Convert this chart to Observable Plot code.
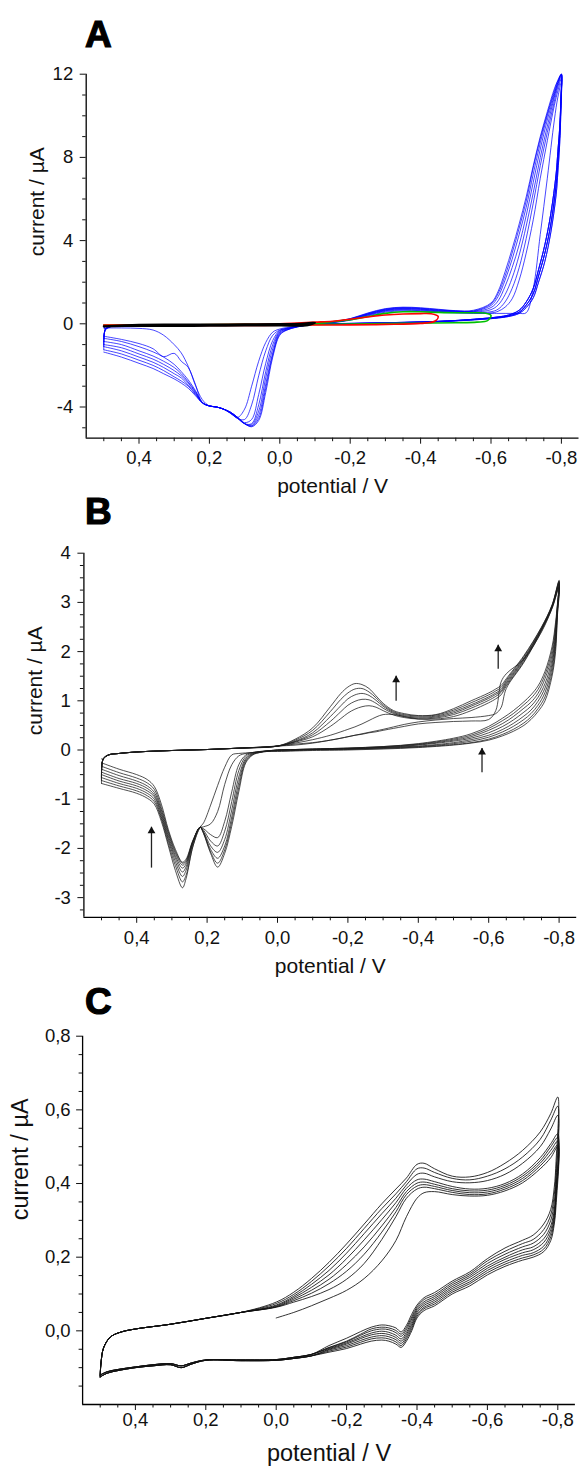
<!DOCTYPE html>
<html><head><meta charset="utf-8">
<script src="https://cdn.jsdelivr.net/npm/d3@7"></script>
<script src="https://cdn.jsdelivr.net/npm/@observablehq/plot@0.6"></script>
<style>
body{margin:0;background:#fff;}
#wrap{position:relative;width:581px;height:1472px;background:#fff;overflow:hidden;font-family:"Liberation Sans",Arial,Helvetica,sans-serif;}
.panel{position:absolute;left:0;}
.letter{position:absolute;left:85px;font-size:37px;font-weight:bold;line-height:1;color:#000;-webkit-text-stroke:1.2px #000;}
</style></head><body><div id="wrap"></div>
<script>
// ---------- axis ticks / labels ----------
const xMajor = [0.4, 0.2, 0, -0.2, -0.4, -0.6, -0.8];
const xMajorLabels = ["0,4", "0,2", "0,0", "-0,2", "-0,4", "-0,6", "-0,8"];
const xMinor = [0.5, 0.45, 0.35, 0.3, 0.25, 0.15, 0.1, 0.05, -0.05, -0.1, -0.15, -0.25, -0.3, -0.35, -0.45, -0.5, -0.55, -0.65, -0.7, -0.75];
const aYMajor = [12, 8, 4, 0, -4];
const aYLabels = ["12", "8", "4", "0", "-4"];
const aYMinor = [11, 10, 9, 7, 6, 5, 3, 2, 1, -1, -2, -3, -5];
const bYMajor = [4, 3, 2, 1, 0, -1, -2, -3];
const bYLabels = ["4", "3", "2", "1", "0", "-1", "-2", "-3"];
const bYMinor = [3.75, 3.5, 3.25, 2.75, 2.5, 2.25, 1.75, 1.5, 1.25, 0.75, 0.5, 0.25, -0.25, -0.5, -0.75, -1.25, -1.5, -1.75, -2.25, -2.5, -2.75, -3.25];
const cYMajor = [0.8, 0.6, 0.4, 0.2, 0.0];
const cYLabels = ["0,8", "0,6", "0,4", "0,2", "0,0"];
const cYMinor = [0.75, 0.7, 0.65, 0.55, 0.5, 0.45, 0.35, 0.3, 0.25, 0.15, 0.1, 0.05, -0.05, -0.1, -0.15];
const panelLetters = ["A", "B", "C"];
const xTitle = "potential / V";
const yTitle = "current / µA";

// ---------- Panel A (blue cycles) ----------
const aFwdHeadE = [0.495, 0.48, 0.45, 0.40, 0.30, 0.20, 0.10, 0.00, -0.10];
const aFwdHeadI = [-0.25, -0.13, -0.10, -0.08, -0.06, -0.05, -0.04, -0.02, 0.02];
const aFwdTailE = [-0.15, -0.20, -0.25, -0.30, -0.35, -0.40, -0.45, -0.50, -0.55, -0.60, -0.62, -0.64, -0.66, -0.68, -0.70, -0.72, -0.74, -0.76, -0.78, -0.79, -0.80];
const aFwd1 = [0.06, 0.17, 0.38, 0.56, 0.62, 0.60, 0.55, 0.52, 0.50, 0.50, 0.50, 0.50, 0.50, 0.50, 0.53, 1.7, 4.3, 7.0, 9.8, 10.9, 11.6];
const aFwd2 = [0.07, 0.19, 0.41, 0.60, 0.66, 0.63, 0.58, 0.54, 0.52, 0.52, 0.60, 0.80, 1.2, 2.1, 3.4, 5.0, 7.0, 8.8, 10.5, 11.2, 11.8];
const aFwd3 = [0.07, 0.20, 0.43, 0.63, 0.69, 0.66, 0.60, 0.56, 0.54, 0.58, 0.70, 1.05, 1.7, 2.7, 4.1, 5.8, 7.6, 9.2, 10.7, 11.4, 11.9];
const aFwd4 = [0.08, 0.21, 0.45, 0.65, 0.72, 0.69, 0.62, 0.58, 0.56, 0.68, 0.90, 1.4, 2.2, 3.3, 4.7, 6.3, 8.0, 9.5, 10.9, 11.5, 12.0];
const aFwd5 = [0.08, 0.22, 0.47, 0.67, 0.74, 0.71, 0.64, 0.60, 0.58, 0.78, 1.1, 1.8, 2.7, 3.8, 5.2, 6.8, 8.4, 9.8, 11.0, 11.6, 12.0];
const aFwd6 = [0.09, 0.23, 0.48, 0.69, 0.76, 0.73, 0.66, 0.61, 0.60, 0.88, 1.3, 2.1, 3.1, 4.3, 5.6, 7.2, 8.7, 10.0, 11.1, 11.6, 12.0];
const aFwd7 = [0.09, 0.24, 0.50, 0.71, 0.78, 0.75, 0.68, 0.62, 0.62, 0.95, 1.45, 2.3, 3.4, 4.6, 5.9, 7.5, 8.9, 10.1, 11.2, 11.7, 12.0];
const aFwd8 = [0.10, 0.25, 0.52, 0.73, 0.80, 0.77, 0.70, 0.63, 0.65, 1.0, 1.55, 2.5, 3.6, 4.8, 6.1, 7.6, 9.0, 10.2, 11.3, 11.7, 12.0];
const aRevHeadE = [-0.799, -0.795, -0.79, -0.785, -0.77, -0.753, -0.735, -0.72, -0.70, -0.68, -0.65, -0.62, -0.58, -0.50, -0.40, -0.30, -0.20, -0.10];
const aRevHeadI1 = [10.5, 8.6, 7.3, 6.2, 4.4, 3.0, 2.0, 1.25, 0.78, 0.50, 0.35, 0.28, 0.22, 0.14, 0.07, 0.03, 0.00, -0.02];
const aRevHeadI2 = [10.8, 9.0, 7.8, 6.7, 4.8, 3.4, 2.3, 1.45, 0.90, 0.56, 0.38, 0.30, 0.24, 0.15, 0.08, 0.04, 0.01, -0.02];
const aRevHeadI3 = [11.0, 9.4, 8.3, 7.2, 5.3, 3.8, 2.6, 1.70, 1.05, 0.65, 0.42, 0.33, 0.26, 0.16, 0.09, 0.05, 0.02, -0.02];
const aRevTailE = [-0.05, -0.02, 0.00, 0.02, 0.04, 0.06, 0.08, 0.10, 0.12, 0.14, 0.16, 0.18, 0.20, 0.22, 0.24, 0.26, 0.28, 0.30, 0.33, 0.36, 0.40, 0.45, 0.50];
const aRev1 = [-0.10, -0.18, -0.25, -0.40, -0.90, -1.8, -3.0, -4.1, -4.5, -4.3, -4.1, -4.0, -3.95, -3.8, -2.9, -2.05, -1.4, -1.0, -0.55, -0.30, -0.22, -0.20, -0.20];
const aRev2 = [-0.12, -0.22, -0.30, -0.55, -1.3, -2.5, -3.9, -4.6, -4.55, -4.3, -4.1, -4.0, -3.95, -3.65, -2.95, -2.1, -1.8, -1.42, -1.58, -1.2, -0.95, -0.75, -0.60];
const aRev3 = [-0.12, -0.22, -0.32, -0.80, -1.9, -3.4, -4.6, -4.75, -4.55, -4.3, -4.1, -4.0, -3.95, -3.78, -3.2, -2.7, -2.3, -1.95, -1.6, -1.35, -1.1, -0.85, -0.70];
const aRev4 = [-0.13, -0.24, -0.36, -1.0, -2.3, -3.9, -4.8, -4.8, -4.55, -4.28, -4.1, -4.0, -3.95, -3.78, -3.25, -2.8, -2.4, -2.1, -1.8, -1.55, -1.3, -1.0, -0.85];
const aRev5 = [-0.13, -0.26, -0.40, -1.2, -2.6, -4.2, -4.85, -4.8, -4.5, -4.27, -4.1, -4.0, -3.95, -3.8, -3.3, -2.85, -2.5, -2.25, -1.95, -1.7, -1.45, -1.15, -1.0];
const aRev6 = [-0.14, -0.28, -0.45, -1.4, -2.9, -4.4, -4.9, -4.8, -4.5, -4.25, -4.1, -4.0, -3.95, -3.8, -3.35, -2.95, -2.6, -2.4, -2.1, -1.85, -1.6, -1.3, -1.1];
const aRev7 = [-0.15, -0.30, -0.50, -1.5, -3.1, -4.55, -4.92, -4.8, -4.5, -4.25, -4.1, -4.0, -3.95, -3.8, -3.4, -3.0, -2.75, -2.55, -2.25, -2.0, -1.75, -1.45, -1.25];
const aRev8 = [-0.15, -0.30, -0.55, -1.6, -3.3, -4.65, -4.95, -4.8, -4.5, -4.25, -4.1, -4.0, -3.95, -3.8, -3.45, -3.1, -2.85, -2.65, -2.4, -2.15, -1.9, -1.6, -1.36];
// small switching loops
const blackE = [0.50, 0.40, 0.30, 0.20, 0.10, 0.00, -0.06, -0.10, -0.08, 0.00, 0.10, 0.20, 0.30, 0.40, 0.50];
const blackI = [-0.12, -0.05, -0.04, -0.04, -0.03, -0.02, 0.00, 0.05, -0.06, -0.08, -0.08, -0.09, -0.10, -0.10, -0.12];
const redE = [0.50, 0.30, 0.10, 0.00, -0.05, -0.10, -0.15, -0.20, -0.25, -0.30, -0.35, -0.40, -0.43, -0.45, -0.44, -0.40, -0.30, -0.20, -0.10, 0.00, 0.10, 0.20, 0.30, 0.40, 0.50];
const redI = [-0.06, -0.05, -0.03, 0.00, 0.04, 0.08, 0.12, 0.22, 0.33, 0.42, 0.47, 0.49, 0.48, 0.35, 0.12, 0.02, -0.03, -0.05, -0.06, -0.07, -0.08, -0.08, -0.09, -0.10, -0.12];
const greenE = [0.50, 0.30, 0.10, 0.00, -0.10, -0.15, -0.20, -0.25, -0.30, -0.35, -0.40, -0.45, -0.50, -0.55, -0.58, -0.60, -0.59, -0.56, -0.50, -0.40, -0.30, -0.20, -0.10, 0.00, 0.20, 0.40, 0.50];
const greenI = [-0.06, -0.05, -0.03, -0.01, 0.04, 0.10, 0.20, 0.35, 0.50, 0.58, 0.58, 0.55, 0.53, 0.53, 0.52, 0.40, 0.15, 0.08, 0.05, 0.03, 0.01, -0.01, -0.03, -0.05, -0.06, -0.07, -0.08];

// ---------- Panel B ----------
const bFwdHeadE = [0.495, 0.48, 0.45, 0.40, 0.30, 0.20, 0.10, 0.00];
const bFwdHeadI = [-0.18, -0.10, -0.07, -0.04, -0.01, 0.01, 0.04, 0.08];
const bFwdTailE = [-0.05, -0.10, -0.15, -0.18, -0.20, -0.22, -0.24, -0.26, -0.28, -0.30, -0.33, -0.36, -0.40, -0.45, -0.50, -0.55, -0.60, -0.62, -0.635, -0.65, -0.70, -0.75, -0.78, -0.80];
const bFwd1 = [0.10, 0.14, 0.20, 0.24, 0.27, 0.30, 0.32, 0.35, 0.37, 0.40, 0.44, 0.48, 0.53, 0.56, 0.58, 0.59, 0.62, 0.80, 1.38, 1.55, 1.85, 2.40, 2.88, 3.30];
const bFwd2 = [0.12, 0.15, 0.20, 0.24, 0.27, 0.30, 0.33, 0.36, 0.39, 0.42, 0.47, 0.52, 0.57, 0.61, 0.64, 0.66, 0.70, 0.74, 0.86, 1.25, 1.78, 2.42, 2.88, 3.32];
const bFwd3 = [0.14, 0.21, 0.30, 0.37, 0.42, 0.47, 0.53, 0.60, 0.67, 0.72, 0.72, 0.68, 0.63, 0.63, 0.68, 0.80, 0.96, 1.04, 1.12, 1.30, 1.80, 2.44, 2.90, 3.36];
const bFwd4 = [0.16, 0.27, 0.48, 0.64, 0.75, 0.83, 0.88, 0.90, 0.87, 0.80, 0.71, 0.66, 0.63, 0.65, 0.72, 0.85, 1.01, 1.09, 1.17, 1.33, 1.83, 2.45, 2.91, 3.38];
const bFwd5 = [0.17, 0.31, 0.58, 0.78, 0.91, 0.99, 1.03, 1.02, 0.95, 0.85, 0.74, 0.68, 0.65, 0.67, 0.75, 0.89, 1.05, 1.13, 1.20, 1.36, 1.85, 2.46, 2.92, 3.40];
const bFwd6 = [0.18, 0.35, 0.68, 0.90, 1.04, 1.12, 1.15, 1.11, 1.01, 0.89, 0.76, 0.70, 0.67, 0.69, 0.78, 0.92, 1.08, 1.16, 1.23, 1.39, 1.87, 2.47, 2.93, 3.42];
const bFwd7 = [0.20, 0.40, 0.78, 1.03, 1.16, 1.24, 1.25, 1.18, 1.06, 0.92, 0.78, 0.72, 0.69, 0.71, 0.81, 0.96, 1.12, 1.20, 1.27, 1.42, 1.90, 2.49, 2.94, 3.43];
const bFwd8 = [0.22, 0.45, 0.88, 1.15, 1.28, 1.35, 1.33, 1.25, 1.10, 0.95, 0.80, 0.74, 0.70, 0.72, 0.84, 1.00, 1.16, 1.24, 1.31, 1.45, 1.92, 2.50, 2.95, 3.45];
const bRevHeadE = [-0.795, -0.79, -0.78, -0.76, -0.74, -0.72, -0.70, -0.67, -0.64, -0.60, -0.55, -0.50, -0.40, -0.30, -0.20, -0.10, -0.05, 0.00];
const bRev1 = [2.70, 2.00, 1.50, 1.00, 0.78, 0.62, 0.50, 0.38, 0.29, 0.20, 0.14, 0.10, 0.05, 0.02, 0.00, -0.01, -0.02, -0.03];
const bRev2 = [2.75, 2.10, 1.58, 1.08, 0.84, 0.67, 0.55, 0.42, 0.32, 0.22, 0.15, 0.11, 0.06, 0.03, 0.01, 0.00, -0.01, -0.02];
const bRev3 = [2.80, 2.20, 1.67, 1.17, 0.91, 0.74, 0.62, 0.48, 0.37, 0.26, 0.18, 0.13, 0.07, 0.04, 0.02, 0.01, 0.00, -0.01];
const bRev4 = [2.83, 2.28, 1.75, 1.26, 0.99, 0.81, 0.69, 0.54, 0.42, 0.30, 0.21, 0.15, 0.08, 0.05, 0.02, 0.01, 0.00, -0.01];
const bRev5 = [2.86, 2.36, 1.84, 1.35, 1.07, 0.89, 0.77, 0.61, 0.48, 0.35, 0.24, 0.18, 0.10, 0.05, 0.03, 0.01, 0.00, 0.00];
const bRev6 = [2.90, 2.44, 1.93, 1.45, 1.15, 0.97, 0.85, 0.68, 0.54, 0.40, 0.27, 0.20, 0.11, 0.06, 0.03, 0.02, 0.01, 0.00];
const bRev7 = [2.92, 2.52, 2.02, 1.53, 1.23, 1.05, 0.92, 0.74, 0.60, 0.44, 0.30, 0.22, 0.12, 0.07, 0.04, 0.02, 0.01, 0.00];
const bRev8 = [2.95, 2.60, 2.10, 1.60, 1.30, 1.12, 0.98, 0.80, 0.65, 0.48, 0.33, 0.24, 0.13, 0.07, 0.04, 0.02, 0.01, 0.00];
const bAnE = [0.03, 0.05, 0.07, 0.09, 0.11, 0.13, 0.15, 0.17, 0.19, 0.21, 0.22, 0.24, 0.26, 0.27, 0.29, 0.31, 0.33, 0.35, 0.37, 0.40, 0.45, 0.50];
const bAn1 = [-0.03, -0.04, -0.05, -0.06, -0.07, -0.10, -0.35, -0.72, -1.12, -1.48, -1.57, -1.95, -2.62, -2.80, -2.45, -1.95, -1.45, -1.10, -0.98, -0.88, -0.78, -0.68];
const bAn2 = [-0.02, -0.04, -0.05, -0.07, -0.12, -0.30, -0.70, -1.25, -1.50, -1.56, -1.58, -1.95, -2.55, -2.68, -2.35, -1.90, -1.40, -1.05, -0.93, -0.83, -0.73, -0.62];
const bAn3 = [-0.02, -0.03, -0.05, -0.10, -0.30, -0.85, -1.45, -1.78, -1.72, -1.60, -1.57, -1.90, -2.45, -2.57, -2.27, -1.84, -1.36, -1.00, -0.88, -0.78, -0.68, -0.56];
const bAn4 = [-0.02, -0.03, -0.06, -0.13, -0.42, -1.05, -1.65, -1.95, -1.85, -1.63, -1.57, -1.88, -2.38, -2.48, -2.20, -1.80, -1.31, -0.95, -0.83, -0.73, -0.63, -0.50];
const bAn5 = [-0.02, -0.04, -0.07, -0.17, -0.55, -1.22, -1.82, -2.08, -1.95, -1.66, -1.57, -1.86, -2.32, -2.40, -2.15, -1.75, -1.27, -0.91, -0.78, -0.68, -0.58, -0.45];
const bAn6 = [-0.02, -0.04, -0.08, -0.20, -0.66, -1.36, -1.95, -2.20, -2.02, -1.68, -1.57, -1.85, -2.28, -2.34, -2.10, -1.70, -1.22, -0.86, -0.73, -0.63, -0.52, -0.39];
const bAn7 = [-0.02, -0.05, -0.09, -0.23, -0.76, -1.46, -2.03, -2.30, -2.07, -1.69, -1.57, -1.84, -2.25, -2.30, -2.06, -1.66, -1.17, -0.80, -0.67, -0.57, -0.46, -0.33];
const bAn8 = [-0.03, -0.05, -0.10, -0.26, -0.85, -1.55, -2.10, -2.38, -2.10, -1.70, -1.57, -1.83, -2.22, -2.28, -2.02, -1.62, -1.10, -0.74, -0.60, -0.50, -0.39, -0.26];
// arrows in panel B
const arrowE = [0.358, -0.337, -0.627, -0.581];
const arrowFromI = [-2.39, 1.00, 1.65, -0.45];
const arrowToI = [-1.56, 1.51, 2.14, 0.04];

// ---------- Panel C ----------
const cFwdHeadE = [0.498, 0.49, 0.47, 0.44, 0.40, 0.30, 0.20, 0.10];
const cFwdHeadI = [-0.09, -0.045, -0.016, -0.003, 0.005, 0.018, 0.034, 0.05];
const cFwdE = [0.00, -0.05, -0.10, -0.15, -0.20, -0.25, -0.30, -0.34, -0.37, -0.40, -0.42, -0.45, -0.50, -0.55, -0.60, -0.65, -0.70, -0.75, -0.78, -0.80];
const cFwd1 = [0.035, 0.05, 0.068, 0.088, 0.11, 0.142, 0.19, 0.245, 0.31, 0.36, 0.375, 0.378, 0.37, 0.366, 0.368, 0.38, 0.402, 0.44, 0.47, 0.50];
const cFwd2 = [0.064, 0.078, 0.093, 0.112, 0.14, 0.183, 0.248, 0.31, 0.36, 0.385, 0.39, 0.386, 0.376, 0.37, 0.372, 0.385, 0.408, 0.448, 0.48, 0.505];
const cFwd3 = [0.065, 0.082, 0.102, 0.128, 0.162, 0.208, 0.268, 0.323, 0.37, 0.393, 0.397, 0.392, 0.381, 0.375, 0.377, 0.39, 0.414, 0.455, 0.49, 0.515];
const cFwd4 = [0.066, 0.086, 0.11, 0.14, 0.18, 0.228, 0.285, 0.335, 0.378, 0.401, 0.404, 0.398, 0.386, 0.38, 0.382, 0.395, 0.42, 0.462, 0.50, 0.525];
const cFwd5 = [0.068, 0.09, 0.118, 0.152, 0.196, 0.247, 0.302, 0.348, 0.387, 0.41, 0.412, 0.405, 0.392, 0.385, 0.387, 0.40, 0.426, 0.47, 0.508, 0.535];
const cFwd6 = [0.07, 0.094, 0.126, 0.164, 0.211, 0.264, 0.318, 0.36, 0.396, 0.425, 0.428, 0.418, 0.405, 0.402, 0.408, 0.425, 0.455, 0.50, 0.548, 0.585];
const cFwd7 = [0.074, 0.099, 0.134, 0.176, 0.224, 0.278, 0.332, 0.372, 0.405, 0.44, 0.442, 0.43, 0.414, 0.41, 0.42, 0.44, 0.472, 0.52, 0.572, 0.61];
const cFwd8 = [0.078, 0.105, 0.142, 0.186, 0.236, 0.29, 0.345, 0.385, 0.415, 0.452, 0.455, 0.44, 0.42, 0.418, 0.43, 0.455, 0.49, 0.54, 0.59, 0.635];
const cRevHeadE = [-0.795, -0.79, -0.78, -0.76, -0.73, -0.70, -0.65, -0.60, -0.55, -0.50, -0.45, -0.42, -0.40, -0.385, -0.37, -0.355, -0.34, -0.32, -0.30, -0.27, -0.24, -0.20, -0.15];
const cRev1 = [0.34, 0.29, 0.245, 0.215, 0.20, 0.192, 0.175, 0.152, 0.122, 0.10, 0.068, 0.055, 0.035, 0.0, -0.028, -0.045, -0.036, -0.028, -0.025, -0.028, -0.036, -0.048, -0.058];
const cRev2 = [0.36, 0.30, 0.255, 0.222, 0.206, 0.198, 0.181, 0.158, 0.128, 0.105, 0.073, 0.06, 0.04, 0.006, -0.022, -0.04, -0.03, -0.022, -0.019, -0.022, -0.031, -0.044, -0.055];
const cRev3 = [0.37, 0.31, 0.265, 0.23, 0.212, 0.205, 0.187, 0.164, 0.133, 0.11, 0.078, 0.064, 0.045, 0.012, -0.016, -0.034, -0.024, -0.016, -0.013, -0.017, -0.026, -0.04, -0.052];
const cRev4 = [0.38, 0.32, 0.275, 0.24, 0.22, 0.212, 0.194, 0.17, 0.139, 0.115, 0.083, 0.069, 0.05, 0.018, -0.01, -0.028, -0.018, -0.01, -0.007, -0.011, -0.021, -0.036, -0.05];
const cRev5 = [0.39, 0.33, 0.285, 0.25, 0.228, 0.22, 0.20, 0.176, 0.145, 0.12, 0.088, 0.074, 0.055, 0.025, -0.004, -0.022, -0.012, -0.004, -0.001, -0.006, -0.017, -0.033, -0.048];
const cRev6 = [0.41, 0.35, 0.30, 0.262, 0.238, 0.228, 0.208, 0.183, 0.15, 0.125, 0.093, 0.079, 0.06, 0.032, 0.003, -0.015, -0.005, 0.003, 0.005, 0.0, -0.012, -0.03, -0.046];
const cRev7 = [0.43, 0.37, 0.315, 0.275, 0.248, 0.237, 0.216, 0.19, 0.155, 0.13, 0.098, 0.085, 0.065, 0.038, 0.009, -0.009, 0.001, 0.008, 0.01, 0.005, -0.009, -0.028, -0.045];
const cRev8 = [0.46, 0.39, 0.33, 0.29, 0.26, 0.246, 0.225, 0.196, 0.16, 0.135, 0.104, 0.09, 0.07, 0.045, 0.015, -0.003, 0.008, 0.014, 0.016, 0.01, -0.002, -0.02, -0.04];
const cRevTailE = [-0.10, -0.05, 0.00, 0.10, 0.20, 0.24, 0.27, 0.30, 0.35, 0.40, 0.45, 0.48, 0.50];
const cRevTailUpper = [-0.064, -0.072, -0.078, -0.079, -0.079, -0.087, -0.095, -0.089, -0.092, -0.098, -0.105, -0.111, -0.12];
const cRevTailLower = [-0.068, -0.075, -0.08, -0.081, -0.08, -0.09, -0.10, -0.092, -0.095, -0.10, -0.108, -0.115, -0.125];

// ---------- build cycle tables ----------
function seg(E, I, cyc) { return E.map((e, i) => ({E: e, I: I[i], cyc})); }

const aFwd = [aFwd1, aFwd2, aFwd3, aFwd4, aFwd5, aFwd6, aFwd7, aFwd8];
const aRev = [aRev1, aRev2, aRev3, aRev4, aRev5, aRev6, aRev7, aRev8];
const aRevHead = [aRevHeadI1, aRevHeadI2, aRevHeadI1, aRevHeadI2, aRevHeadI3, aRevHeadI2, aRevHeadI3, aRevHeadI3];
const aBlue = [];
aFwd.forEach((f, k) => {
  const start = k === 0 ? greenI[greenI.length - 1] : aRev[k - 1][aRev[k - 1].length - 1];
  aBlue.push({E: 0.5, I: start, cyc: k});
  aBlue.push(...seg(aFwdHeadE, aFwdHeadI, k), ...seg(aFwdTailE, f, k),
             ...seg(aRevHeadE, aRevHead[k], k), ...seg(aRevTailE, aRev[k], k));
});
const aBlack = seg(blackE, blackI, 0);
const aRed = seg(redE, redI, 0);
const aGreen = seg(greenE, greenI, 0);

const bFwd = [bFwd1, bFwd2, bFwd3, bFwd4, bFwd5, bFwd6, bFwd7, bFwd8];
const bRev = [bRev1, bRev2, bRev3, bRev4, bRev5, bRev6, bRev7, bRev8];
const bAn = [bAn1, bAn2, bAn3, bAn4, bAn5, bAn6, bAn7, bAn8];
const bData = [];
bFwd.forEach((f, k) => {
  const start = k === 0 ? bFwdHeadI[0] : bAn[k - 1][bAn[k - 1].length - 1];
  bData.push({E: 0.5, I: start, cyc: k});
  bData.push(...seg(bFwdHeadE, bFwdHeadI, k), ...seg(bFwdTailE, f, k),
             ...seg(bRevHeadE, bRev[k], k), ...seg(bAnE, bAn[k], k));
});

const cFwd = [cFwd1, cFwd2, cFwd3, cFwd4, cFwd5, cFwd6, cFwd7, cFwd8];
const cRev = [cRev1, cRev2, cRev3, cRev4, cRev5, cRev6, cRev7, cRev8];
const cData = [];
cFwd.forEach((f, k) => {
  const tail = k < 4 ? cRevTailLower : cRevTailUpper;
  if (k > 0) {
    const prevTail = (k - 1) < 4 ? cRevTailLower : cRevTailUpper;
    cData.push({E: 0.5, I: prevTail[prevTail.length - 1], cyc: k});
    cData.push(...seg(cFwdHeadE, cFwdHeadI, k));
  }
  cData.push(...seg(cFwdE, f, k), ...seg(cRevHeadE, cRev[k], k), ...seg(cRevTailE, tail, k));
});

// ---------- drawing ----------
const FONT = '"Liberation Sans", Arial, Helvetica, sans-serif';
function fmt(values, labels) {
  return d => { const i = values.findIndex(v => Math.abs(v - d) < 1e-9); return i >= 0 ? labels[i] : ""; };
}
function makePanel(o) {
  const y0 = o.yDomain[0];
  return Plot.plot({
    width: 581, height: o.height,
    marginTop: o.mt, marginBottom: o.mb, marginLeft: o.ml, marginRight: o.mr,
    x: {domain: [0.55, -0.85], label: null},
    y: {domain: o.yDomain, label: null},
    style: {fontFamily: FONT, color: "#111", background: "transparent", overflow: "visible"},
    marks: [
      ...o.marks,
      Plot.ruleY([y0], {stroke: "#000", strokeWidth: 1.3}),
      Plot.ruleX([0.55], {stroke: "#000", strokeWidth: 1.3}),
      Plot.axisX({ticks: xMajor, tickFormat: fmt(xMajor, xMajorLabels), tickSize: 6, tickPadding: o.xPad, fontSize: 18.5, label: null}),
      Plot.axisX({ticks: xMinor, tickFormat: () => "", tickSize: 3.5, label: null}),
      Plot.axisY({ticks: o.yMajor, tickFormat: fmt(o.yMajor, o.yLabels), tickSize: 6, tickPadding: o.yPad, fontSize: 18.5, label: null}),
      Plot.axisY({ticks: o.yMinor, tickFormat: () => "", tickSize: 3.5, label: null}),
      Plot.text([xTitle], {frameAnchor: "bottom", dy: o.xLabDy, fontSize: o.labSize, fill: "#111"}),
      Plot.text([yTitle], {frameAnchor: "left", dx: o.yLabDx, rotate: -90, fontSize: o.labSize, fill: "#111"})
    ]
  });
}
const lineOpts = {x: "E", y: "I", z: "cyc", curve: "catmull-rom"};

const figA = makePanel({
  height: 510, mt: 73.7, mb: 72.3, ml: 85.7, mr: 2.5,
  yDomain: [-5.5, 12], yMajor: aYMajor, yLabels: aYLabels, yMinor: aYMinor,
  xPad: 7, yPad: 7, xLabDy: 54.3, yLabDx: -48.7, labSize: 21,
  marks: [
    Plot.line(aBlue, {...lineOpts, stroke: "#0000ff", strokeWidth: 1, strokeOpacity: 0.72}),
    Plot.line(aGreen, {...lineOpts, stroke: "#00c000", strokeWidth: 1.6}),
    Plot.line(aRed, {...lineOpts, stroke: "#ff0000", strokeWidth: 1.6}),
    Plot.line(aBlack, {...lineOpts, stroke: "#000", strokeWidth: 2.2})
  ]
});
const figB = makePanel({
  height: 502, mt: 54.7, mb: 83.2, ml: 83.4, mr: 4.8,
  yDomain: [-3.4, 4], yMajor: bYMajor, yLabels: bYLabels, yMinor: bYMinor,
  xPad: 8, yPad: 7, xLabDy: 55.2, yLabDx: -48.4, labSize: 21,
  marks: [
    Plot.line(bData, {...lineOpts, stroke: "#1a1a1a", strokeWidth: 0.9, strokeOpacity: 0.85}),
    Plot.link(arrowE, {x1: d => d, x2: d => d, y1: (d, i) => arrowFromI[i], y2: (d, i) => arrowToI[i], stroke: "#222", strokeWidth: 1.3}),
    Plot.dot(arrowE, {x: d => d, y: (d, i) => arrowToI[i], symbol: "triangle", r: 2.9, fill: "#111", stroke: "none", dy: 4.2})
  ]
});
const figC = makePanel({
  height: 482, mt: 45.7, mb: 68, ml: 82.1, mr: 6.1,
  yDomain: [-0.2, 0.8], yMajor: cYMajor, yLabels: cYLabels, yMinor: cYMinor,
  xPad: 2, yPad: 6, xLabDy: 56, yLabDx: -62, labSize: 23.5,
  marks: [
    Plot.line(cData, {...lineOpts, stroke: "#111", strokeWidth: 1.0, strokeOpacity: 0.85})
  ]
});

const wrap = document.getElementById("wrap");
[[figA, 0], [figB, 498], [figC, 990]].forEach(([fig, top]) => {
  fig.classList.add("panel");
  fig.style.top = top + "px";
  wrap.appendChild(fig);
});
[15.7, 492.7, 982.7].forEach((top, i) => {
  const d = document.createElement("div");
  d.className = "letter";
  d.style.top = top + "px";
  d.textContent = panelLetters[i];
  wrap.appendChild(d);
});
</script></body></html>
